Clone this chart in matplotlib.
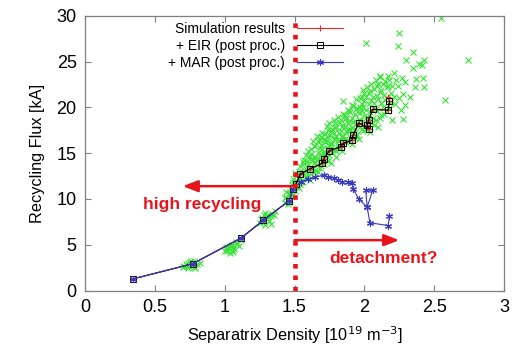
import matplotlib
matplotlib.use("Agg")
import matplotlib.pyplot as plt
from matplotlib.lines import Line2D

plt.rcParams['font.family'] = ['Liberation Sans', 'DejaVu Sans']

# simulation scan: separatrix density [1e19 m^-3] vs recycling flux [kA]
sim_n = [0.346, 0.77, 1.117, 1.276, 1.46, 1.49, 1.51, 1.54, 1.61, 1.70, 1.71,
         1.75, 1.83, 1.85, 1.91, 1.92, 1.96, 2.03, 2.02, 2.03, 2.06, 2.17,
         2.18, 2.17]
sim_flux = [1.28, 2.92, 5.73, 7.67, 9.8, 11.1, 11.6, 12.7, 13.3, 13.9, 14.4,
            15.3, 15.7, 16.1, 16.4, 17.0, 18.3, 17.7, 18.1, 18.6, 19.8, 19.7,
            20.7, 21.2]

# post-processed with EIR
eir_n = sim_n[:-1]
eir_flux = sim_flux[:-1]

# post-processed with MAR
mar_n = [0.346, 0.77, 1.117, 1.276, 1.46, 1.49, 1.55, 1.60, 1.65, 1.71, 1.74,
         1.78, 1.81, 1.84, 1.88, 1.91, 1.92, 1.96, 2.02, 2.01, 2.06, 2.02,
         2.04, 2.17, 2.18]
mar_flux = [1.28, 2.92, 5.73, 7.67, 9.8, 11.1, 11.9, 12.2, 12.4, 12.6, 12.4,
            12.3, 12.1, 11.9, 11.9, 11.8, 11.1, 10.0, 9.1, 10.95, 10.95, 9.1,
            7.4, 7.1, 8.1]

# time-resolved samples of the runs
samples_n = [
    0.70, 0.72, 0.74, 0.75, 0.77, 0.78, 0.80, 0.73, 0.79, 0.82,
    0.76, 0.74, 0.71, 0.78, 0.76,
    1.00, 1.02, 1.04, 1.05, 1.07, 1.08, 1.03, 1.10, 1.06, 1.12,
    1.01, 1.04, 1.06, 1.09, 1.02, 1.05,
    1.25, 1.27, 1.29, 1.30, 1.32, 1.34, 1.31, 1.36, 1.28, 1.33,
    1.26, 1.28, 1.30, 1.33, 1.35, 1.29,
    1.43, 1.44, 1.45, 1.46, 1.47, 1.44, 1.48, 1.45, 1.46, 1.47, 1.43,
    1.47, 1.48, 1.49, 1.50, 1.51, 1.52, 1.50, 1.53,
    1.54, 1.55, 1.56, 1.57, 1.55, 1.58, 1.57, 1.54, 1.58,
    1.60, 1.61, 1.62, 1.60, 1.63, 1.64, 1.61, 1.62, 1.64, 1.63,
    1.65, 1.66, 1.67, 1.68, 1.66, 1.69, 1.70, 1.67, 1.68, 1.70, 1.69,
    1.71, 1.72, 1.73, 1.74, 1.72, 1.75, 1.76, 1.73, 1.75, 1.76, 1.74,
    1.77, 1.78, 1.79, 1.80, 1.81, 1.82, 1.78, 1.80, 1.82, 1.79, 1.81,
    1.83, 1.84, 1.85, 1.86, 1.87, 1.88, 1.84, 1.86, 1.88, 1.85,
    1.89, 1.90, 1.91, 1.92, 1.93, 1.94, 1.90, 1.92, 1.94, 1.91,
    1.95, 1.96, 1.97, 1.98, 1.99, 2.00, 1.96, 1.98, 2.00, 1.97,
    2.01, 2.02, 2.03, 2.04, 2.05, 2.06, 2.02, 2.04, 2.06, 2.03,
    2.07, 2.08, 2.09, 2.10, 2.11, 2.12, 2.08, 2.10, 2.12,
    2.14, 2.15, 2.16, 2.17, 2.18, 2.19, 2.20, 2.15,
    2.22, 2.24, 2.26, 2.21, 2.28,
    1.48, 1.49, 1.50, 1.51, 1.52, 1.53, 1.54, 1.55, 1.56, 1.56, 1.57,
    1.58, 1.59, 1.59, 1.60, 1.61, 1.62, 1.62, 1.63, 1.64, 1.65, 1.65,
    1.66, 1.67, 1.67, 1.68, 1.69, 1.69, 1.70, 1.71, 1.71, 1.72, 1.72,
    1.73, 1.73, 1.74, 1.74, 1.75, 1.75, 1.76, 1.77, 1.77, 1.78, 1.78,
    1.79, 1.79, 1.80, 1.80, 1.81, 1.82, 1.82, 1.83, 1.83, 1.84, 1.85,
    1.85, 1.86, 1.86, 1.87, 1.87, 1.88, 1.88, 1.89, 1.89, 1.90, 1.90,
    1.91, 1.91, 1.92, 1.93, 1.93, 1.94, 1.94, 1.95, 1.95, 1.96, 1.97,
    1.97, 1.98, 1.98, 1.99, 1.99, 2.00, 2.00, 2.01, 2.01, 2.02, 2.03,
    2.04, 2.05, 2.05, 2.06, 2.07, 2.07, 2.08, 2.09, 2.09, 2.10, 2.11,
    2.11, 2.12, 2.13, 2.13, 2.14, 2.16, 2.16, 2.17, 2.18, 2.19, 2.20,
    2.21, 2.23, 2.25,
    2.55, 2.25, 2.01, 2.24, 2.35, 2.74, 2.30, 2.43, 2.39, 2.35, 2.41,
    2.11, 2.27, 2.29, 2.37, 2.42, 2.36, 2.43, 1.99, 2.33, 2.58, 1.85,
    2.29, 2.28,
]
samples_flux = [
    2.6, 2.9, 2.5, 3.1, 2.7, 3.2, 2.9, 2.7, 2.5, 3.0,
    2.8, 3.0, 2.7, 2.6, 3.2,
    4.3, 4.8, 4.1, 5.0, 4.5, 5.3, 4.6, 4.9, 4.2, 5.5,
    4.6, 4.9, 4.7, 5.1, 4.3, 4.4,
    7.4, 7.9, 7.2, 8.2, 7.6, 8.4, 8.0, 8.7, 8.3, 7.3,
    7.8, 7.5, 7.8, 8.1, 8.3, 8.5,
    9.6, 10.2, 9.4, 10.6, 9.9, 10.8, 10.3, 10.0, 9.7, 10.5, 10.1,
    10.8, 11.5, 12.2, 10.9, 11.8, 12.6, 11.4, 11.2,
    12.3, 13.1, 11.9, 13.8, 12.7, 12.4, 14.3, 11.6, 13.3,
    12.6, 13.5, 14.4, 15.2, 13.0, 15.8, 12.1, 14.9, 13.9, 16.3,
    13.2, 14.1, 15.0, 16.4, 16.9, 13.6, 14.6, 12.9, 15.6, 17.2, 15.9,
    13.8, 15.1, 16.3, 17.5, 14.3, 14.8, 16.0, 18.0, 17.0, 13.9, 15.6,
    15.0, 16.6, 17.8, 14.6, 15.8, 17.2, 18.6, 16.9, 18.4, 15.4, 19.0,
    15.6, 16.8, 18.1, 19.2, 16.2, 17.5, 15.2, 17.9, 19.7, 16.4,
    16.3, 17.6, 18.9, 20.2, 16.7, 18.2, 19.5, 17.2, 19.8, 16.0,
    17.0, 18.6, 20.0, 21.2, 17.4, 19.1, 16.6, 19.6, 20.7, 17.9,
    17.6, 19.0, 20.4, 21.8, 18.3, 19.9, 22.2, 17.3, 21.2, 18.6,
    18.1, 19.8, 21.3, 22.6, 18.8, 20.5, 23.0, 17.9, 21.9,
    19.3, 20.8, 22.2, 23.4, 19.9, 21.6, 18.6, 22.9,
    20.4, 22.4, 19.7, 23.8, 21.5,
    11.0, 11.7, 12.8, 11.3, 12.0, 13.0, 13.6, 12.0, 12.9, 14.0, 12.6,
    14.8, 13.0, 14.1, 13.8, 14.7, 13.3, 15.5, 14.3, 12.9, 14.6, 15.8,
    13.7, 16.3, 14.5, 13.4, 14.9, 16.8, 15.5, 16.6, 14.9, 17.1, 16.2,
    14.6, 15.5, 16.8, 14.2, 18.3, 15.9, 17.4, 16.1, 17.6, 15.5, 17.2,
    16.7, 18.3, 15.2, 17.9, 16.5, 15.6, 16.3, 17.4, 18.6, 17.9, 16.9,
    19.3, 16.6, 18.7, 17.4, 18.9, 16.5, 18.3, 17.4, 19.6, 16.8, 18.5,
    17.8, 20.3, 18.4, 17.6, 19.3, 17.0, 20.9, 18.3, 19.9, 19.4, 18.6,
    21.0, 17.6, 20.4, 18.5, 20.1, 18.0, 21.6, 19.7, 21.1, 18.2, 21.6,
    19.5, 20.8, 22.6, 18.9, 20.5, 22.0, 18.6, 19.6, 22.4, 20.9, 21.7,
    23.3, 19.2, 22.6, 20.1, 21.4, 19.6, 21.0, 22.4, 23.0, 20.6, 22.3,
    21.2, 23.0, 21.0,
    29.8, 28.1, 27.0, 26.7, 26.1, 25.2, 25.2, 25.2, 24.8, 24.3, 24.6,
    23.4, 23.2, 22.8, 23.1, 23.2, 22.2, 22.2, 21.9, 21.1, 20.8, 20.7,
    20.3, 18.7,
]

RED = '#e8141c'
SIM_C = '#e03030'
MAR_C = '#3a3ac0'
ASTERISK = (6, 2, 0)

fig = plt.figure(figsize=(5.17, 3.49), dpi=100)
ax = fig.add_axes([0.1644, 0.1676, 0.8105, 0.7866])

ax.plot(samples_n, samples_flux, linestyle='none', marker='x', markersize=4.5,
        mew=0.8, color='#38e038', zorder=1)

ax.plot(sim_n, sim_flux, color=SIM_C, lw=0.8, marker='+', markersize=5,
        mew=0.8, zorder=2)
ax.plot(eir_n, eir_flux, color='black', lw=0.8, marker='s', markersize=3.8,
        mfc='none', mew=0.7, zorder=3)
ax.plot(mar_n, mar_flux, color=MAR_C, lw=0.8, marker=ASTERISK, markersize=5,
        mew=0.8, zorder=4)

# separatrix density threshold
ax.axvline(1.5, color=RED, lw=3.3, linestyle=(0, (1.0, 1.5)), zorder=5)

arrow = dict(arrowstyle='-|>,head_length=0.9,head_width=0.35', color=RED,
             lw=1.8, shrinkA=0, shrinkB=0)
ax.annotate('', xy=(0.70, 11.4), xytext=(1.5, 11.4), arrowprops=arrow,
            zorder=6)
ax.annotate('', xy=(2.25, 5.5), xytext=(1.5, 5.5), arrowprops=arrow,
            zorder=6)
ax.text(0.84, 9.4, 'high recycling', color=RED, fontsize=12.5,
        fontweight='bold', ha='center', va='center')
ax.text(2.14, 3.5, 'detachment?', color=RED, fontsize=12.5,
        fontweight='bold', ha='center', va='center')

ax.set_xlim(0, 3)
ax.set_ylim(0, 30)
ax.set_xticks([0, 0.5, 1, 1.5, 2, 2.5, 3])
ax.set_xticklabels(['0', '0.5', '1', '1.5', '2', '2.5', '3'])
ax.set_yticks(range(0, 31, 5))
ax.tick_params(direction='in', length=4, width=0.8, color='#808080',
               top=True, right=True, labelsize=13, pad=6)
for s in ax.spines.values():
    s.set_color('#808080')
    s.set_linewidth(0.9)

ax.set_xlabel(r'Separatrix Density [10$^{19}$ m$^{-3}$]', fontsize=11.7,
              labelpad=6)
ax.set_ylabel('Recycling Flux [kA]', fontsize=11.7, labelpad=8)

handles = [
    Line2D([], [], color=SIM_C, lw=0.8, marker='+', markersize=5, mew=0.8),
    Line2D([], [], color='black', lw=0.8, marker='s', markersize=3.8,
           mfc='none', mew=0.7),
    Line2D([], [], color=MAR_C, lw=0.8, marker=ASTERISK, markersize=5,
           mew=0.8),
]
labels = ['Simulation results', '+ EIR (post proc.)', '+ MAR (post proc.)']
leg = ax.legend(handles, labels, loc='upper right', frameon=False,
                markerfirst=False, numpoints=1, fontsize=10,
                handlelength=3.3, handletextpad=0.9, labelspacing=0.2,
                borderpad=0, borderaxespad=0,
                bbox_to_anchor=(343 / 517, 1 - 22 / 349),
                bbox_transform=fig.transFigure)
for t in leg.get_texts():
    t.set_ha('right')
leg.set_zorder(7)

fig.savefig('out.png', dpi=100)
